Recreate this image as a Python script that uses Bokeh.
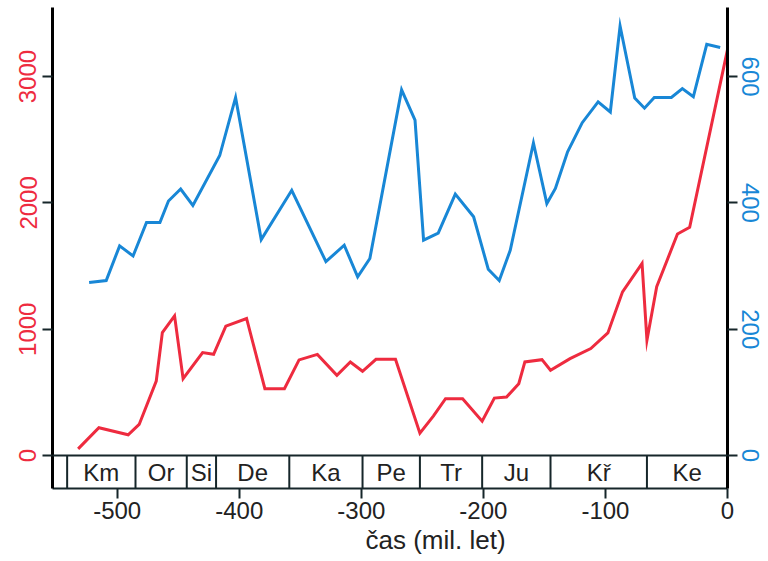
from bokeh.plotting import figure
from bokeh.models import Range1d, LinearAxis, Span, FixedTicker, Title, CustomJSTickFormatter
from bokeh.core.properties import value
from bokeh.embed import file_html
from bokeh.resources import INLINE

# --- data (time in millions of years, negative = ago) ---
blue_t = [-523, -509, -498, -487, -476, -465, -458, -448, -438, -416, -403, -382,
          -357, -329, -314, -303, -293, -267, -256, -249, -237, -223, -208, -196,
          -187, -178, -159, -148, -141, -131, -119, -106, -96, -88, -76, -68, -60,
          -46, -37, -28, -17, -6]
blue_v = [274, 277, 332, 316, 369, 369, 403, 422, 396, 475, 567, 342,
          420, 307, 333, 283, 312, 579, 531, 341, 352, 414, 378, 295,
          277, 325, 495, 399, 423, 481, 527, 560, 544, 680, 566, 550, 567,
          567, 581, 568, 651, 646]

red_t = [-532, -515, -491, -482, -468, -463, -453, -446, -430, -421, -411, -394,
         -379, -363, -351, -336, -320, -309, -299, -288, -272, -252, -241, -231,
         -217, -201, -191, -181, -171, -166, -152, -145, -129, -112, -98, -86,
         -70, -66, -58, -41, -31, 0]
red_v = [53, 220, 164, 246, 590, 974, 1106, 608, 815, 802, 1024, 1085,
         529, 529, 757, 801, 635, 741, 667, 762, 762, 177, 312, 450,
         450, 272, 455, 463, 569, 741, 759, 675, 767, 847, 971, 1296,
         1521, 913, 1336, 1754, 1807, 3214]

period_bounds = [-541, -485, -443, -419, -359, -299, -252, -201, -145, -66, 0]
period_names = ["Km", "Or", "Si", "De", "Ka", "Pe", "Tr", "Ju", "Kř", "Ke"]

x_ticks = [-500, -400, -300, -200, -100, 0]
left_ticks = [0, 1000, 2000, 3000]
right_ticks = [0, 200, 400, 600]

RED = "#ee2b3f"
BLUE = "#1887d6"
DARK = "#16262a"
FONT = "Liberation Sans"
FS = "24px"

Y0, Y1 = -261, 3547

p = figure(frame_width=675, frame_height=481,
           x_range=Range1d(-553, 0), y_range=Range1d(Y0, Y1),
           output_backend="svg", toolbar_location=None,
           min_border_left=52, min_border_right=41, min_border_top=7,
           min_border_bottom=0)
p.extra_y_ranges = {"fam": Range1d(Y0 / 5, Y1 / 5)}
p.xgrid.visible = False
p.ygrid.visible = False
p.outline_line_color = None
p.background_fill_color = "white"
p.border_fill_color = "white"

def style_axis(ax, ticks, color):
    ax.ticker = FixedTicker(ticks=ticks)
    ax.formatter = CustomJSTickFormatter(code="return tick.toFixed(0);")
    ax.major_label_text_font = FONT
    ax.major_label_text_font_size = FS
    ax.major_label_text_color = color
    ax.axis_line_color = "black"
    ax.axis_line_width = 3
    ax.major_tick_line_color = DARK
    ax.major_tick_line_width = 2
    ax.major_tick_out = 10
    ax.major_tick_in = 0
    ax.minor_tick_line_color = None
    ax.major_label_standoff = 3

# left axis
yl = p.yaxis[0]
style_axis(yl, left_ticks, RED)
yl.major_label_orientation = "vertical"
yl.major_label_standoff = 6

# right axis
yr = LinearAxis(y_range_name="fam")
style_axis(yr, right_ticks, BLUE)
yr.major_label_orientation = "vertical"
yr.major_label_standoff = 4
p.add_layout(yr, "right")

# bottom axis
xa = p.xaxis[0]
style_axis(xa, x_ticks, "#222222")
xa.axis_line_width = 2
xa.axis_line_color = DARK
xa.major_label_standoff = 3

# geological period band
p.add_layout(Span(location=0, dimension="width", line_color=DARK, line_width=2))
n = len(period_names)
p.segment(x0=period_bounds[:-1], y0=[Y0] * n, x1=period_bounds[:-1], y1=[0] * n,
          line_color=DARK, line_width=2)
mids = [(a + b) / 2 for a, b in zip(period_bounds[:-1], period_bounds[1:])]
p.text(x=mids, y=[Y0 / 2] * n, text=period_names,
       text_align="center", text_baseline="middle",
       text_font=value(FONT), text_font_size=FS, text_color="#222222")

# data lines
p.line(blue_t, blue_v, y_range_name="fam", line_color=BLUE, line_width=3,
       line_join="miter")
p.line(red_t, red_v, line_color=RED, line_width=3, line_join="miter")

# x axis title
t = Title(text="čas (mil. let)", align="left", offset=313,
          text_font=FONT, text_font_size="26px", text_font_style="normal",
          text_color="#222222", standoff=2)
p.add_layout(t, "below")

open("out.html", "w").write(file_html(p, INLINE))
